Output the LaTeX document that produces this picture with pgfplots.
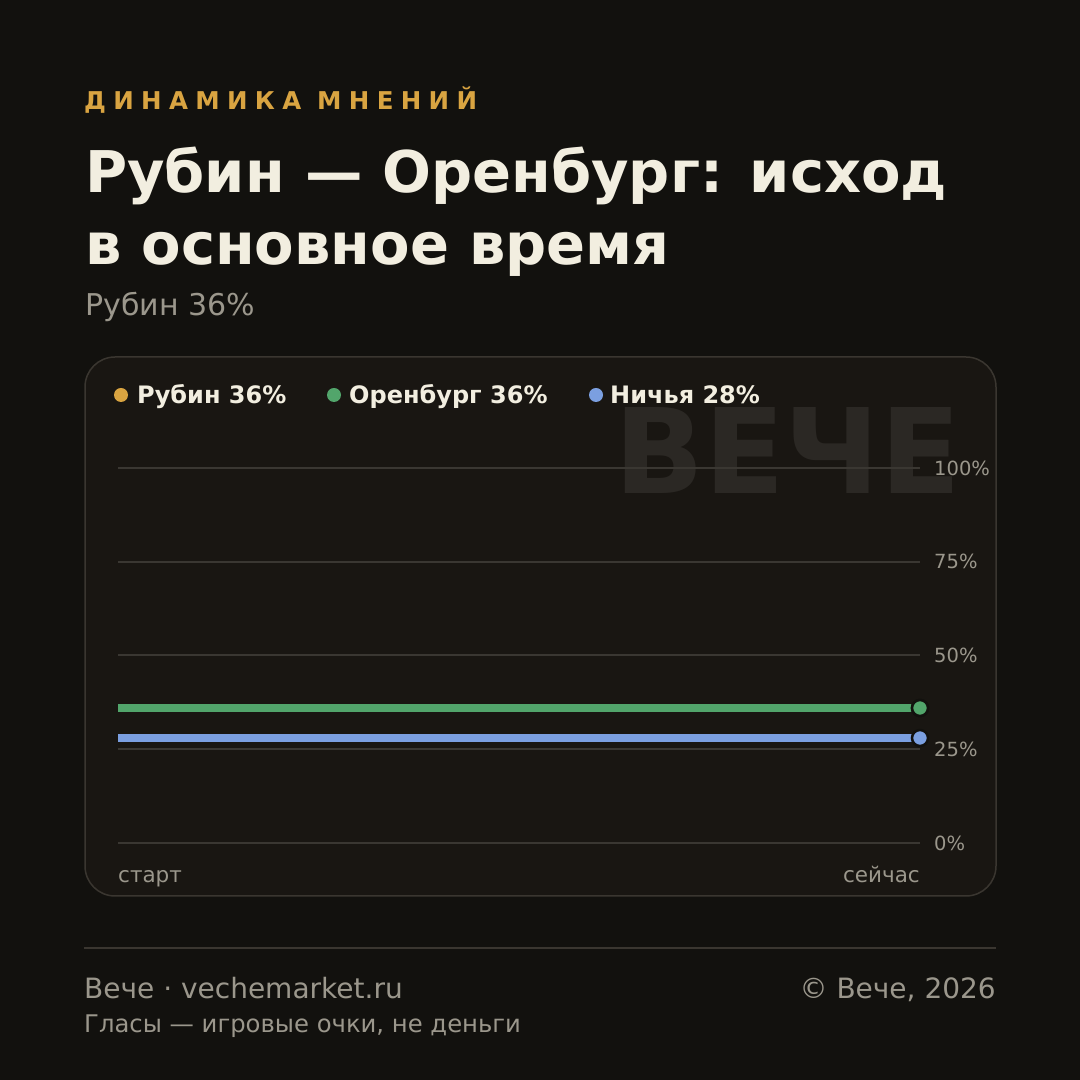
\documentclass[border=0pt]{standalone}
\usepackage{fontspec}
\setmainfont{DejaVu Sans}
\usepackage{pgfplots}
\pgfplotsset{compat=1.18}
\definecolor{bgc}{HTML}{12110E}
\definecolor{panelc}{HTML}{191612}
\definecolor{panelb}{HTML}{3A3630}
\definecolor{gridc}{HTML}{3A3732}
\definecolor{cream}{HTML}{F2EEE0}
\definecolor{greyt}{HTML}{9B978C}
\definecolor{goldc}{HTML}{D9A441}
\definecolor{greenc}{HTML}{52A56B}
\definecolor{bluec}{HTML}{7B9FE0}
\definecolor{wmark}{HTML}{2B2824}
\newfontfamily\eyebrowfont[LetterSpace=30]{DejaVu Sans}
\newcommand{\fs}[1]{\fontsize{#1pt}{#1pt}\selectfont}
\begin{document}
\begin{tikzpicture}[x=1pt,y=1pt]
\useasboundingbox (0,0) rectangle (1080,1080);
\fill[bgc] (0,0) rectangle (1080,1080);
% header
\node[anchor=base west, inner sep=0, text=goldc] at (84,970) {\eyebrowfont\fs{24.5}\bfseries ДИНАМИКА МНЕНИЙ};
\node[anchor=base west, inner sep=0, text=cream] at (85,887) {\fs{57.5}\bfseries Рубин — Оренбург: исход};
\node[anchor=base west, inner sep=0, text=cream] at (85,815) {\fs{57.5}\bfseries в основное время};
\node[anchor=base west, inner sep=0, text=greyt] at (85,764) {\fs{30}Рубин 36\%};
% panel
\draw[panelb, line width=1.5pt, fill=panelc, rounded corners=30pt] (85,184) rectangle (996,723);
% watermark
\node[anchor=base east, inner sep=0, text=wmark] at (961,586) {\fs{118}\bfseries ВЕЧЕ};
% legend
\fill[goldc] (121,685) circle (7);
\fill[greenc] (334,685) circle (7);
\fill[bluec] (596,685) circle (7);
\node[anchor=base west, inner sep=0, text=cream] at (137,676) {\fs{24}\bfseries Рубин 36\%};
\node[anchor=base west, inner sep=0, text=cream] at (349,676) {\fs{24}\bfseries Оренбург 36\%};
\node[anchor=base west, inner sep=0, text=cream] at (610,676) {\fs{24}\bfseries Ничья 28\%};
\begin{axis}[
  at={(118pt,237pt)}, anchor=south west,
  scale only axis, width=802pt, height=375pt,
  xmin=0, xmax=1, ymin=0, ymax=100,
  axis lines=none,
  clip=false,
  xtick=\empty,
  ytick={0,25,50,75,100},
  yticklabels={0\%,25\%,50\%,75\%,100\%},
]
\foreach \yy in {0,25,50,75,100} {
  \edef\tmp{\noexpand\draw[gridc, line width=2pt] (axis cs:0,\yy) -- (axis cs:1,\yy);
  \noexpand\node[anchor=west, inner sep=0, text=greyt, font=\noexpand\fs{19.5}] at (axis cs:1,\yy) [xshift=14pt] {\yy\noexpand\%};}
  \tmp
}
\addplot[goldc, line width=8pt, mark=*, mark indices={2}, mark size=8pt, mark options={fill=goldc, draw=bgc, line width=2.5pt}] coordinates {(0,36) (1,36)};
\addplot[greenc, line width=8pt, mark=*, mark indices={2}, mark size=8pt, mark options={fill=greenc, draw=bgc, line width=2.5pt}] coordinates {(0,36) (1,36)};
\addplot[bluec, line width=8pt, mark=*, mark indices={2}, mark size=8pt, mark options={fill=bluec, draw=bgc, line width=2.5pt}] coordinates {(0,28) (1,28)};
\end{axis}
\node[anchor=base west, inner sep=0, text=greyt] at (118,197) {\fs{21.5}старт};
\node[anchor=base east, inner sep=0, text=greyt] at (920,197) {\fs{21.5}сейчас};
% footer
\draw[panelb, line width=2pt] (84,132) -- (996,132);
\node[anchor=base west, inner sep=0, text=greyt] at (84,81) {\fs{28}Вече · vechemarket.ru};
\node[anchor=base east, inner sep=0, text=greyt] at (996,81) {\fs{28}© Вече, 2026};
\node[anchor=base west, inner sep=0, text=greyt] at (84,47) {\fs{24.3}Гласы — игровые очки, не деньги};
\end{tikzpicture}
\end{document}
